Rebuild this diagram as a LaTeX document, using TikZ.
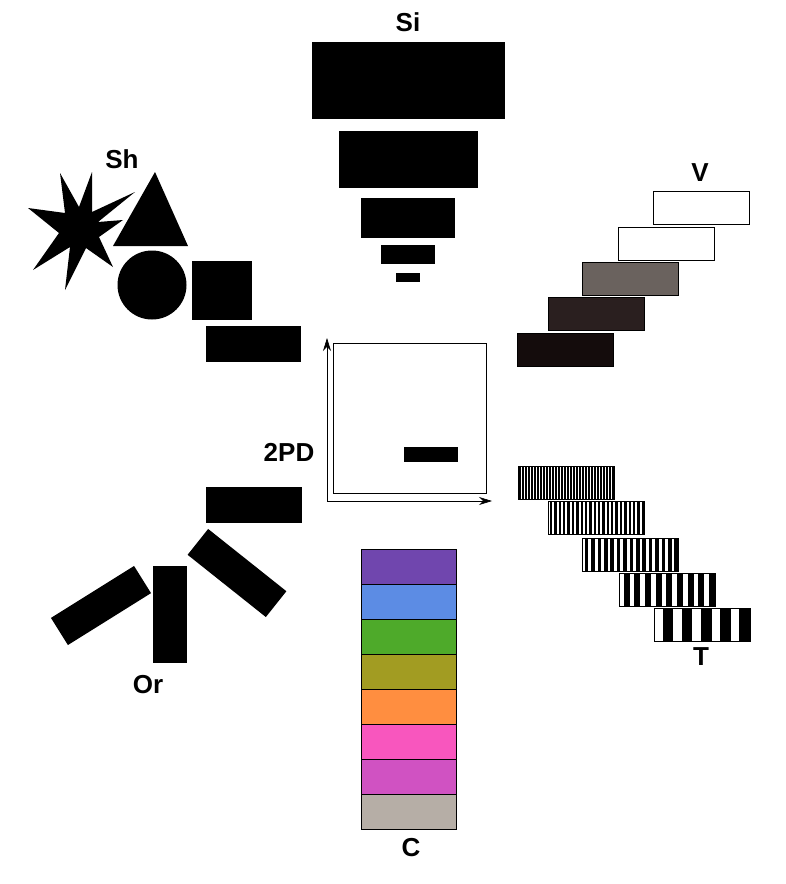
\documentclass[tikz,border=0pt]{standalone}
\usepackage{fontspec}
\newfontfamily\lblfam{Liberation Sans}
\usepackage{tikz}
\usetikzlibrary{arrows.meta,calc}
\definecolor{vgray}{HTML}{6A625E}
\definecolor{vdark}{HTML}{2A1F1F}
\definecolor{vblack}{HTML}{140C0C}
\definecolor{cpurple}{HTML}{7046AE}
\definecolor{cblue}{HTML}{5C8CE4}
\definecolor{cgreen}{HTML}{4EAA2A}
\definecolor{colive}{HTML}{A29C22}
\definecolor{corange}{HTML}{FF8E40}
\definecolor{cpink}{HTML}{F856BE}
\definecolor{cmagenta}{HTML}{D052C2}
\definecolor{cgray}{HTML}{B6AEA6}
\tikzset{
  blk/.style={fill=black,inner sep=0pt,outer sep=0pt},
  lbl/.style={font=\lblfam\bfseries\fontsize{26pt}{30pt}\selectfont,inner sep=0pt},
  vbar/.style={draw=black,thick,inner sep=0pt,outer sep=0pt,minimum width=96pt,minimum height=33pt},
  tbar/.style={fill=white,inner sep=0pt,outer sep=0pt,minimum width=96pt,minimum height=33pt},
  cbox/.style={draw=black,thin,inner sep=0pt,outer sep=0pt,minimum width=95pt,minimum height=35pt},
  pdbox/.style={draw=black,semithick,inner sep=0pt,minimum width=153pt,minimum height=150pt},
  pdaxis/.style={-{Stealth[length=13pt,width=8pt]},semithick}
}
\begin{document}
\begin{tikzpicture}[x=1pt,y=-1pt]
\useasboundingbox (0,0) rectangle (786,884);
\node[lbl] (si) at (408,22) {Si};
\foreach \w/\h/\cy [count=\k] in {193/77/80.5,139/57/159.5,94/40/218,54/19/254.5,24/9/277.5}
  \node[blk,minimum width=\w,minimum height=\h] (si\k) at (408,\cy) {};
\node[lbl] (sh) at (122,159) {Sh};
\fill (135,192) -- (92,212) -- (92,172) -- (79,207) -- (60,173) -- (65,213) -- (28,208) -- (59,233)
  -- (33,270) -- (70,247) -- (65,290) -- (86,248) -- (113,267) -- (99,237) -- (123,220) -- (98,222) -- cycle;
\fill (155,172) -- (113,246) -- (188,246) -- cycle;
\node[blk,circle,minimum size=69] (shc) at (152,285) {};
\node[blk,minimum width=60,minimum height=59] (shs) at (222,290.5) {};
\node[blk,minimum width=95,minimum height=36] (shr) at (253.5,344) {};
\node[lbl] (v) at (700,173) {V};
\foreach \cx/\cy/\c [count=\k] in {701/208/white,666/244/white,630/279/vgray,596/314/vdark,565/350/vblack}
  \node[vbar,fill=\c] (v\k) at (\cx,\cy) {};
\node[pdbox] (pd) at (409.5,418) {};
\node[blk,minimum width=54,minimum height=15] (pdr) at (431,454.5) {};
\coordinate (o) at (327,501);
\coordinate (ytop) at (327,338);
\coordinate (xend) at (492,501);
\draw[pdaxis] (o) -- (ytop);
\draw[pdaxis] (o) -- (xend);
\node[lbl] (pdl) at (289,452) {2PD};
\foreach \cx/\cy/\n [count=\k] in {566/483/32,596/518/22,630/554.5/15,667/589.5/9,702/625/5}{
  \node[tbar] (t\k) at (\cx,\cy) {};
  \pgfmathsetmacro\p{96/\n}
  \foreach \i in {1,...,\n}
    \fill ($(t\k.north west)+({(\i-0.55)*\p},0)$) rectangle ($(t\k.south west)+({\i*\p},0)$);
  \draw[thick] (t\k.north west) rectangle (t\k.south east);
}
\node[lbl] (t) at (701,657) {T};
\node[blk,minimum width=96,minimum height=36] (or1) at (254,505) {};
\node[blk,minimum width=100,minimum height=33,rotate=-38.5] (or2) at (237,573) {};
\node[blk,minimum width=34,minimum height=97] (or3) at (170,614.5) {};
\node[blk,minimum width=98,minimum height=32,rotate=32] (or4) at (101,605.5) {};
\node[lbl] (or) at (148,685) {Or};
\foreach \c [count=\k] in {cpurple,cblue,cgreen,colive,corange,cpink,cmagenta,cgray}
  \node[cbox,fill=\c] (c\k) at (408.5,{531.5+35*\k}) {};
\node[lbl] (c) at (411,848) {C};
\end{tikzpicture}
\end{document}
